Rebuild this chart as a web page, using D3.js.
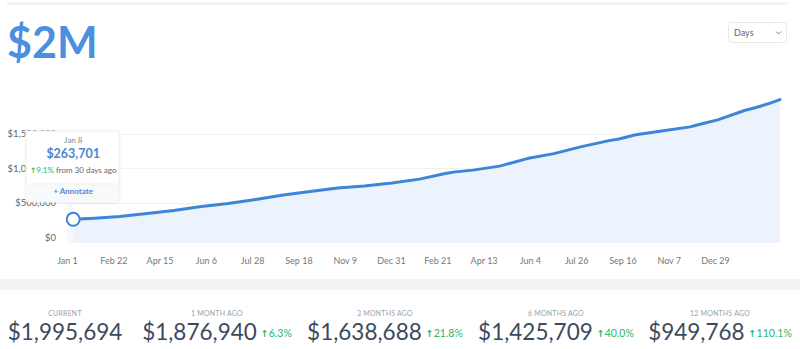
<!DOCTYPE html>
<html>
<head>
<meta charset="utf-8">
<script src="https://cdn.jsdelivr.net/npm/d3@7/dist/d3.min.js"></script>
<style>
  html, body { margin: 0; padding: 0; background: #fff; }
  svg { display: block; font-family: Lato, "Open Sans", sans-serif; }
</style>
</head>
<body>
<svg id="chart" width="800" height="349"></svg>
<script>
// Running total, sampled over time
const dates = [
  "2019-01-08","2019-02-01","2019-03-01","2019-04-01","2019-05-01","2019-06-01",
  "2019-07-01","2019-08-01","2019-09-01","2019-10-01","2019-11-01","2019-12-01",
  "2020-01-01","2020-02-01","2020-03-01","2020-03-12","2020-04-01","2020-05-01",
  "2020-06-01","2020-07-01","2020-08-01","2020-09-01","2020-09-12","2020-10-01",
  "2020-11-01","2020-12-01","2020-12-12","2021-01-01","2021-02-01","2021-02-12",
  "2021-03-01","2021-03-12"
];
const values = [
  263701, 279000, 303000, 347000, 390000, 448000,
  491000, 549000, 614000, 665000, 715000, 744000,
  788000, 845000, 925000, 949768, 975000, 1033000,
  1142000, 1214000, 1315000, 1402000, 1425709, 1488000,
  1546000, 1601000, 1638688, 1702000, 1842000, 1876940,
  1944000, 1995694
];

const xTickDates = [
  "2019-01-01","2019-02-22","2019-04-15","2019-06-06","2019-07-28","2019-09-18",
  "2019-11-09","2019-12-31","2020-02-21","2020-04-13","2020-06-04","2020-07-26",
  "2020-09-16","2020-11-07","2020-12-29"
];
const yTickValues = [0, 500000, 1000000, 1500000];

const statLabels = ["CURRENT", "1 MONTH AGO", "3 MONTHS AGO", "6 MONTHS AGO", "12 MONTHS AGO"];
const statValues = [1995694, 1876940, 1638688, 1425709, 949768];

const headline = "$2M";
const hoverDate = "2019-01-08";
const hoverChange = 9.1;

const parse = d3.utcParse("%Y-%m-%d");
const data = dates.map((d, i) => ({ date: parse(d), value: values[i] }));

const svg = d3.select("#chart");
const blue = "#3d85d8";
const gray = "#7a7f87";

// top rule
svg.append("rect").attr("x", 7).attr("y", 2.5).attr("width", 781).attr("height", 2).attr("fill", "#eeeeee");

// headline
svg.append("text").attr("x", 7).attr("y", 58)
  .attr("font-size", 43).attr("font-weight", 700).attr("fill", "#4a8fe0")
  .text(headline);

// interval selector
const sel = svg.append("g");
sel.append("rect").attr("x", 728.5).attr("y", 22.5).attr("width", 58).attr("height", 20).attr("rx", 3)
  .attr("fill", "#fff").attr("stroke", "#e9e9e9");
sel.append("text").attr("x", 734).attr("y", 35.5).attr("font-size", 9).attr("fill", "#666").text("Days");
sel.append("path").attr("d", "M776,31.5 L778.5,34 L781,31.5").attr("fill", "none").attr("stroke", "#888").attr("stroke-width", 1);

// scales
const x = d3.scaleUtc()
  .domain([parse("2019-01-01"), parse("2021-03-12")])
  .range([67, 780]);
const y = d3.scaleLinear().domain([0, 2000000]).range([237.5, 99.3]);
const plotBottom = 243;

// gridlines
svg.append("g").selectAll("line").data(yTickValues.slice(1)).join("line")
  .attr("x1", 60).attr("x2", 780)
  .attr("y1", d => Math.round(y(d)) + 0.5).attr("y2", d => Math.round(y(d)) + 0.5)
  .attr("stroke", "#f0f1f3").attr("stroke-width", 1);

// area + line
const area = d3.area().x(d => x(d.date)).y0(plotBottom).y1(d => y(d.value));
svg.append("path").datum(data).attr("d", area).attr("fill", "#edf3fc");

// hover column
const hx = x(parse(hoverDate));
svg.append("rect").attr("x", x(parse("2019-01-01"))).attr("y", 205)
  .attr("width", hx - x(parse("2019-01-01"))).attr("height", plotBottom - 205)
  .attr("fill", "#f5f8fc");

const line = d3.line().x(d => x(d.date)).y(d => y(d.value));
svg.append("path").datum(data).attr("d", line)
  .attr("fill", "none").attr("stroke", blue).attr("stroke-width", 3)
  .attr("stroke-linejoin", "round").attr("stroke-linecap", "round");

// y axis labels
const yAxis = d3.axisLeft(y).tickValues(yTickValues).tickSize(0).tickPadding(0)
  .tickFormat(d => "$" + d3.format(",")(d));
const ya = svg.append("g").attr("transform", "translate(56,0)").call(yAxis);
ya.select(".domain").remove();
ya.selectAll("text").attr("font-size", 9.5).attr("fill", "#666").attr("font-family", "Lato, sans-serif");

// x axis labels
const xAxis = d3.axisBottom(x).tickValues(xTickDates.map(parse)).tickSize(0).tickPadding(0)
  .tickFormat(d3.utcFormat("%b %-d"));
const xa = svg.append("g").attr("transform", "translate(0,258)").call(xAxis);
xa.select(".domain").remove();
xa.selectAll("text").attr("font-size", 9).attr("fill", "#777").attr("font-family", "Lato, sans-serif");

// hover point
const hv = data.find(d => +d.date === +parse(hoverDate));
svg.append("circle").attr("cx", hx).attr("cy", y(hv.value)).attr("r", 6.5)
  .attr("fill", "#fff").attr("stroke", blue).attr("stroke-width", 2);

// tooltip
const defs = svg.append("defs");
const f = defs.append("filter").attr("id", "shadow").attr("x", "-20%").attr("y", "-20%").attr("width", "140%").attr("height", "140%");
f.append("feDropShadow").attr("dx", 0).attr("dy", 0.5).attr("stdDeviation", 1.5).attr("flood-color", "#000").attr("flood-opacity", 0.08);

const tip = svg.append("g");
const tx = hx;
tip.append("rect").attr("x", 26).attr("y", 131).attr("width", 93).attr("height", 71).attr("rx", 3)
  .attr("fill", "#fff").attr("stroke", "#eeeeee").attr("filter", "url(#shadow)");
tip.append("path").attr("d", "M26.5,184 H118.5 V199 a3,3 0 0 1 -3,3 H29.5 a3,3 0 0 1 -3,-3 Z").attr("fill", "#f8f9fa");
tip.append("line").attr("x1", 26.5).attr("x2", 118.5).attr("y1", 184).attr("y2", 184).attr("stroke", "#f0f0f0");
tip.append("text").attr("x", tx).attr("y", 143).attr("text-anchor", "middle")
  .attr("font-size", 8).attr("fill", "#888").text(d3.utcFormat("%b %-d")(hv.date));
tip.append("text").attr("x", tx).attr("y", 157.5).attr("text-anchor", "middle")
  .attr("font-size", 12.5).attr("font-weight", 700).attr("fill", "#4a86d8")
  .text("$" + d3.format(",")(hv.value));
const ch = tip.append("text").attr("x", tx).attr("y", 173).attr("text-anchor", "middle").attr("font-size", 8);
ch.append("tspan").attr("fill", "#2bb56a").attr("font-family", "DejaVu Sans").attr("font-weight", 700).attr("font-size", 7.5).text("\u2191");
ch.append("tspan").attr("fill", "#2bb56a").text(hoverChange + "%");
ch.append("tspan").attr("fill", "#666").text(" from 30 days ago");
tip.append("text").attr("x", tx).attr("y", 194).attr("text-anchor", "middle")
  .attr("font-size", 8).attr("font-weight", 700).attr("fill", "#4a86d8").text("+ Annotate");

// divider band
svg.append("rect").attr("x", 0).attr("y", 279).attr("width", 800).attr("height", 11).attr("fill", "#f1f4f6");

// stats row
const colCenters = [65, 217, 385, 556, 720];
statLabels.forEach((lab, i) => {
  const cx = colCenters[i];
  svg.append("text").attr("x", cx).attr("y", 315.5).attr("text-anchor", "middle")
    .attr("font-size", 7).attr("letter-spacing", 0.2).attr("fill", "#9ba1a9").text(lab);
  const g = svg.append("g");
  const vt = g.append("text").attr("x", 0).attr("y", 340)
    .attr("font-size", 22.5).attr("fill", "#3d4a5d").text("$" + d3.format(",")(statValues[i]));
  const vw = vt.node().getComputedTextLength();
  let total = vw;
  if (i > 0) {
    const pct = ((statValues[0] / statValues[i] - 1) * 100).toFixed(1);
    const pt = g.append("text").attr("x", vw + 4).attr("y", 337).attr("font-size", 10.5).attr("fill", "#2bb56a");
    pt.append("tspan").attr("font-family", "DejaVu Sans").attr("font-weight", 700).attr("font-size", 9.5).text("\u2191");
    pt.append("tspan").text(pct + "%");
    total = vw + 4 + pt.node().getComputedTextLength();
  }
  g.attr("transform", `translate(${cx - total / 2},0)`);
});
</script>
</body>
</html>
